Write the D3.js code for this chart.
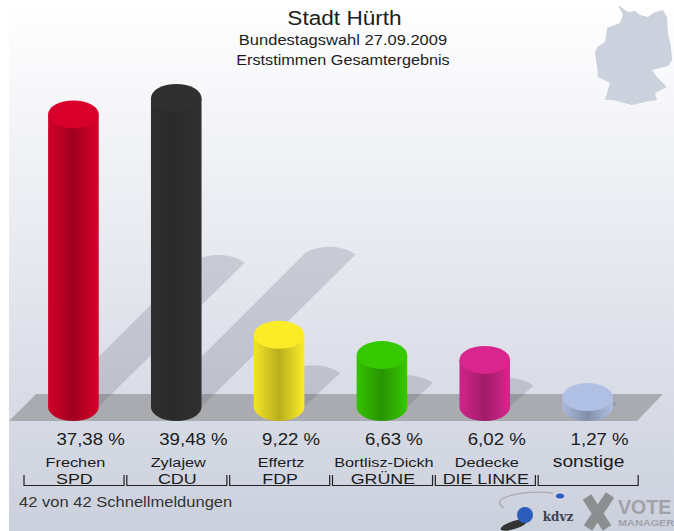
<!DOCTYPE html>
<html><head><meta charset="utf-8">
<script src="https://cdn.jsdelivr.net/npm/d3@7"></script>
<style>html,body{margin:0;padding:0;background:#fff}svg{display:block}text{font-family:"Liberation Sans",Arial,sans-serif}</style>
</head><body><svg id="c" width="674" height="531"></svg>
<script>
const candidates=["Frechen","Zylajew","Effertz","Bortlisz-Dickh","Dedecke","sonstige"];
const parties=["SPD","CDU","FDP","GRÜNE","DIE LINKE",""];
const percents=[37.38,39.48,9.22,6.63,6.02,1.27];
const percentLabels=["37,38 %","39,48 %","9,22 %","6,63 %","6,02 %","1,27 %"];
const barColors=["#d8002a","#303030","#fcec28","#36c800","#d8268e","#b0c0e4"];
const germanyOutline=[[618,5],[628,12],[635,11],[640,15],[648,17],[655,12],[663,10],[667,17],[668,33],[671,47],[672,60],[668,66],[652,70],[657,77],[667,87],[655,93],[657,100],[645,102],[632,105],[613,100],[605,100],[610,83],[598,77],[597,66],[595,53],[597,47],[605,42],[607,28],[620,23],[623,15]];
const W=674,H=531;
const svg=d3.select("#c");
const defs=svg.append("defs");
const bg=defs.append("linearGradient").attr("id","bg").attr("x1",0).attr("y1",0).attr("x2",0).attr("y2",1);
bg.append("stop").attr("offset",0).attr("stop-color","#ffffff");
bg.append("stop").attr("offset",.5).attr("stop-color","#e6e8ef");
bg.append("stop").attr("offset",1).attr("stop-color","#cbd0dd");
defs.append("filter").attr("id","soft").append("feGaussianBlur").attr("stdDeviation",.7);
svg.append("rect").attr("x",9).attr("y",0).attr("width",W-9).attr("height",H).attr("fill","url(#bg)");
svg.append("path").attr("d",d3.line()(germanyOutline)+"Z").attr("fill","#cbd1dd").attr("filter","url(#soft)");

const x=d3.scaleBand().domain(candidates).range([22,639]).paddingInner(0).paddingOuter(0);
const baseY=407;
const y=d3.scaleLinear().domain([0,39.48]).range([baseY,98]);
const rx=25.3,ry=14;
const cx=c=>x(c)+x.bandwidth()/2;

// floor
svg.append("path").attr("d","M9,421L36,394L663,394L637,421Z").attr("fill","#aaabb0");

// shadows
const sg=svg.append("g");
candidates.forEach((c,i)=>{
 const h=baseY-y(percents[i]);const d=h*.5;
 const xc=cx(c),x1=xc+d,y1=baseY-d;
 const r=25;
 sg.append("path").attr("fill","#50566a").attr("fill-opacity",.2)
  .attr("d",`M${xc-r},${baseY}L${x1-r},${y1}C${x1-r+14},${y1-8} ${x1+r-14},${y1-8} ${x1+r},${y1+2}L${xc+r},${baseY}A${r},${ry} 0 0 1 ${xc-r},${baseY}Z`);
});

// bars
candidates.forEach((c,i)=>{
 const col=d3.color(barColors[i]);
 const g=defs.append("linearGradient").attr("id","b"+i);
 const dark=i==1?col.darker(.35):col.darker(.85);
 [[0,col.darker(.1)],[.5,dark],[1,col]].forEach(([o,k])=>g.append("stop").attr("offset",o).attr("stop-color",k));
 const top=y(percents[i]),xc=cx(c);
 svg.append("path").attr("fill",`url(#b${i})`)
  .attr("d",`M${xc-rx},${top}L${xc-rx},${baseY}A${rx},${ry} 0 0 0 ${xc+rx},${baseY}L${xc+rx},${top}Z`);
 svg.append("ellipse").attr("cx",xc).attr("cy",top).attr("rx",rx).attr("ry",ry).attr("fill",barColors[i]);
});

// labels: k widens the glyphs horizontally
const tx=(s,xx,yy,size,k=1,anchor="middle")=>{
 const t=svg.append("text").attr("x",xx).attr("y",yy).attr("font-size",size).attr("text-anchor",anchor).attr("fill","#1c1c1c").text(s);
 if(s) t.attr("textLength",t.node().getComputedTextLength()*k).attr("lengthAdjust","spacingAndGlyphs");
 return t;
};
tx("Stadt Hürth",344.5,25,20,1.13);
tx("Bundestagswahl 27.09.2009",343,45,15,1.1);
tx("Erststimmen Gesamtergebnis",343,65,15,1.08);
candidates.forEach((c,i)=>{
 const xc=cx(c);
 tx(percentLabels[i],xc-17,445,16.5,1.13,"start");
 if(i==5) tx(c,xc+1,467,16,1.2);
 else tx(c,xc+2,467,13,1.25);
 if(parties[i]) tx(parties[i],xc+1,484,15.5,1.15);
});
// brackets
const br=svg.append("g").attr("stroke","#222").attr("fill","none").attr("stroke-width",1.2);
candidates.forEach(c=>{
 const a=x(c)+2,b=x(c)+x.bandwidth()-.8;
 br.append("path").attr("d",`M${a},475V485.5H${b}V475`);
});
tx("42 von 42 Schnellmeldungen",19,507,14.5,1.14,"start").attr("fill","#333");

// logos
svg.append("path").attr("d","M504,508C493,501,503,496,523,493C533,492,545,492,553,493").attr("fill","none").attr("stroke","#a9acb4").attr("stroke-width",1.4);
svg.append("ellipse").attr("cx",514).attr("cy",525).attr("rx",14).attr("ry",4).attr("fill","#333").attr("transform","rotate(-18 514 525)");
svg.append("circle").attr("cx",525).attr("cy",515).attr("r",8).attr("fill","#2c5cbc");
svg.append("ellipse").attr("cx",560).attr("cy",496).attr("rx",4).attr("ry",2.5).attr("fill","#2c5cbc");
tx("kdvz",558,521,13.5,1.1).attr("font-weight","bold").style("font-family","'DejaVu Serif'").attr("fill","#3a4050");
svg.append("path").attr("d","M587,497L607,528M610,495L588,528").attr("stroke","#8d8e90").attr("stroke-width",10).attr("fill","none");
tx("VOTE",618,513.5,21,.93,"start").attr("font-weight","bold").attr("fill","#a0a2a8");
tx("MANAGER",618,526,9.5,1.17,"start").attr("font-weight","bold").attr("fill","#a0a2a8");
</script></body></html>
